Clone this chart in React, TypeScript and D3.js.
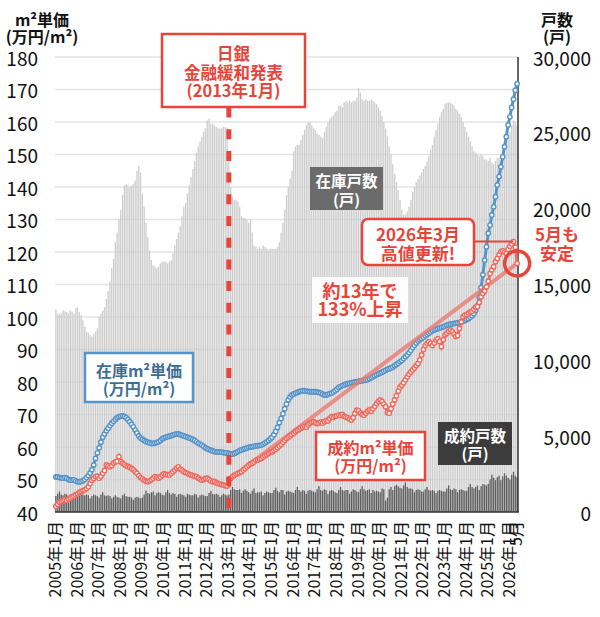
import React from "react";
import * as d3 from "d3";

// 在庫戸数 (戸) 2005年1月〜2026年5月
const inventoryCounts: number[] = [
  13370, 13070, 13030, 13110, 13290, 13240, 13180, 13110, 13290, 13200, 13070, 13460, // 2005
  13500, 13180, 12960, 12640, 12210, 11890, 11790, 11680, 11570, 11740, 11890, 12110, // 2006
  12860, 13070, 13290, 13500, 14040, 14570, 15210, 16070, 16710, 17790, 18430, 19290, // 2007
  19930, 20890, 21540, 21640, 21540, 21430, 21540, 21640, 21860, 22500, 22820, 22390, // 2008
  21000, 20140, 19070, 18110, 17250, 16610, 16290, 16180, 16070, 16180, 16390, 16500, // 2009
  16500, 16500, 16390, 16500, 16610, 17040, 17570, 18000, 18430, 18860, 19500, 20140, // 2010
  20360, 21000, 21540, 22070, 22610, 23140, 23680, 24110, 24430, 24750, 25070, 25290, // 2011
  25820, 25930, 25610, 25610, 25500, 25390, 25290, 25290, 25290, 25390, 25390, 25290, // 2012
  23570, 21430, 20790, 20570, 20570, 20470, 20140, 19500, 19390, 19390, 19290, 19070, // 2013
  19290, 18430, 17570, 17470, 17360, 17470, 17360, 17570, 17470, 17360, 17250, 17360, // 2014
  17360, 17360, 17360, 17470, 17790, 18430, 19070, 19930, 20890, 21430, 21960, 22500, // 2015
  23790, 24110, 24210, 24210, 24540, 24860, 25180, 25500, 25710, 25710, 25500, 25290, // 2016
  25180, 24960, 24860, 24750, 24640, 25070, 25390, 25710, 25930, 26040, 26140, 26360, // 2017
  26460, 26790, 26790, 26680, 27000, 27110, 27000, 27110, 27000, 27110, 27110, 27320, // 2018
  27960, 27640, 27210, 27110, 27210, 27110, 27110, 27210, 27110, 27000, 26890, 26680, // 2019
  26460, 26140, 25710, 25290, 24750, 24110, 23570, 22930, 22290, 21750, 21210, 20570, // 2020
  19930, 19610, 19610, 19820, 20140, 20570, 21110, 21430, 21750, 21960, 22180, 22390, // 2021
  22610, 22820, 23140, 23460, 23890, 24210, 24750, 25180, 25610, 26040, 26360, 26570, // 2022
  26890, 27000, 27000, 27000, 26890, 26790, 26570, 26460, 26250, 26040, 25710, 25390, // 2023
  25070, 24750, 24430, 24110, 23790, 23680, 23570, 23460, 23570, 23460, 23250, 23250, // 2024
  23140, 23360, 23040, 22930, 23140, 23360, 23360, 23140, 23570, 24000, 24540, 24860, // 2025
  25070, 25500, 25820, 25710, 25500, // 2026
];

// 成約戸数 (戸)
const contractCounts: number[] = [
  1050, 1200, 1350, 1150, 1100, 1200, 1150, 950, 1150, 1200, 1150, 1100,
  1000, 1250, 1350, 1150, 1100, 1150, 1100, 900, 1050, 1150, 1100, 1050,
  950, 1150, 1300, 1100, 1050, 1100, 1050, 900, 1000, 1100, 1000, 950,
  900, 1100, 1200, 1050, 1000, 1000, 950, 800, 950, 1000, 950, 900,
  950, 1150, 1400, 1250, 1200, 1300, 1350, 1100, 1250, 1300, 1250, 1150,
  1100, 1300, 1450, 1250, 1150, 1250, 1200, 1000, 1150, 1200, 1150, 1100,
  1000, 1200, 1150, 1100, 1100, 1200, 1150, 950, 1100, 1150, 1100, 1050,
  1050, 1250, 1400, 1200, 1150, 1200, 1150, 1000, 1100, 1200, 1150, 1100,
  1150, 1450, 1650, 1500, 1450, 1450, 1500, 1250, 1400, 1500, 1400, 1300,
  1200, 1400, 1550, 1250, 1300, 1300, 1350, 1100, 1250, 1350, 1300, 1250,
  1250, 1450, 1600, 1400, 1300, 1450, 1450, 1150, 1350, 1400, 1350, 1300,
  1250, 1450, 1650, 1450, 1350, 1450, 1400, 1200, 1400, 1450, 1400, 1350,
  1300, 1500, 1700, 1450, 1400, 1500, 1450, 1200, 1400, 1450, 1400, 1300,
  1250, 1450, 1650, 1450, 1400, 1450, 1450, 1200, 1350, 1500, 1450, 1350,
  1300, 1500, 1700, 1500, 1400, 1450, 1500, 1250, 1450, 1350, 1400, 1350,
  1300, 1550, 1500, 750, 950, 1500, 1650, 1450, 1700, 1800, 1700, 1600,
  1550, 1750, 1950, 1650, 1550, 1550, 1500, 1300, 1450, 1500, 1450, 1350,
  1350, 1500, 1650, 1450, 1400, 1450, 1400, 1250, 1400, 1450, 1400, 1350,
  1350, 1550, 1750, 1500, 1450, 1550, 1500, 1300, 1450, 1500, 1450, 1400,
  1400, 1650, 1850, 1650, 1550, 1650, 1750, 1450, 1700, 1850, 1800, 1750,
  1850, 2150, 2450, 2250, 2100, 2300, 2400, 2100, 2350, 2550, 2400, 2250,
  2150, 2450, 2650, 2400, 2300,
];

// 在庫m²単価 (万円/m²)
const stockPrice: number[] = [
  50.8, 50.8, 50.6, 50.5, 50.4, 50.6, 50.4, 50.0, 49.8, 49.8, 49.9, 49.6,
  49.3, 49.3, 49.4, 49.6, 50.0, 50.6, 51.2, 52.0, 53.0, 54.5, 56.5, 58.2,
  59.8, 61.5, 63.0, 64.0, 65.0, 65.8, 66.6, 67.3, 67.9, 68.5, 69.0, 69.3,
  69.5, 69.6, 69.4, 69.0, 68.5, 67.8, 67.0, 66.2, 65.2, 64.3, 63.4, 62.8,
  62.4, 62.0, 61.7, 61.5, 61.3, 61.1, 61.1, 61.2, 61.4, 61.6, 62.0, 62.5,
  62.8, 63.0, 63.2, 63.3, 63.5, 63.7, 63.9, 64.0, 64.0, 63.8, 63.6, 63.4,
  63.2, 63.0, 62.8, 62.6, 62.3, 62.0, 61.6, 61.2, 60.9, 60.6, 60.2, 59.8,
  59.5, 59.2, 59.0, 58.8, 58.6, 58.5, 58.5, 58.4, 58.4, 58.3, 58.2, 58.2,
  58.0, 57.8, 57.8, 58.0, 58.3, 58.6, 58.9, 59.1, 59.3, 59.5, 59.7, 59.9,
  60.0, 60.1, 60.2, 60.3, 60.4, 60.5, 60.6, 60.9, 61.2, 61.6, 62.0, 62.5,
  63.0, 63.8, 64.8, 66.0, 67.5, 68.8, 70.2, 71.8, 73.2, 74.5, 75.4, 76.0,
  76.3, 76.6, 76.8, 77.0, 77.2, 77.3, 77.3, 77.2, 77.1, 77.0, 77.0, 77.0,
  77.0, 76.9, 76.8, 76.6, 76.3, 76.0, 76.0, 76.2, 76.4, 76.6, 76.9, 77.3,
  77.8, 78.3, 78.6, 78.9, 79.1, 79.3, 79.5, 79.6, 79.8, 79.9, 80.0, 80.1,
  80.2, 80.3, 80.4, 80.5, 80.6, 80.8, 81.0, 81.3, 81.6, 81.9, 82.2, 82.5,
  82.8, 83.0, 83.3, 83.6, 83.9, 84.1, 84.3, 84.6, 85.0, 85.4, 85.8, 86.2,
  86.6, 87.2, 87.8, 88.3, 89.0, 89.8, 90.6, 91.3, 92.0, 92.6, 93.0, 93.4,
  93.8, 94.2, 94.6, 95.0, 95.4, 95.8, 96.0, 96.2, 96.4, 96.6, 96.8, 97.0,
  97.2, 97.5, 97.7, 97.8, 97.9, 98.0, 98.1, 98.2, 98.3, 98.5, 98.7, 98.9,
  99.2, 99.5, 99.9, 100.4, 101.0, 102.0, 103.5, 106.0, 109.0, 113.0, 117.5, 121.6,
  125.8, 128.3, 131.4, 133.9, 137.0, 140.6, 143.2, 146.2, 149.3, 152.4, 155.5, 159.1,
  161.6, 164.5, 167.0, 169.8, 171.8,
];

// 成約m²単価 (万円/m²)
const contractPrice: number[] = [
  41.8, 42.4, 43.0, 43.2, 43.5, 43.8, 43.6, 44.0, 44.3, 44.6, 44.9, 45.3,
  45.6, 46.0, 46.3, 46.6, 46.8, 47.2, 47.8, 48.8, 49.8, 50.3, 50.9, 51.0,
  50.4, 51.0, 51.9, 52.8, 54.5, 54.2, 53.9, 54.3, 55.0, 55.4, 55.6, 57.0,
  55.5, 55.0, 54.6, 54.2, 54.0, 53.8, 53.4, 53.0, 52.4, 51.9, 51.2, 50.6,
  50.2, 49.8, 49.5, 49.3, 49.6, 49.9, 50.4, 50.9, 50.7, 50.4, 50.8, 51.3,
  51.8, 51.6, 51.5, 51.4, 51.9, 52.4, 52.9, 53.5, 53.9, 53.2, 52.9, 52.4,
  52.1, 51.9, 51.6, 51.4, 51.2, 51.0, 50.9, 50.5, 50.1, 49.8, 50.0, 50.3,
  50.4, 50.0, 49.6, 49.3, 49.4, 49.0, 48.8, 48.6, 48.5, 48.3, 48.1, 48.0,
  50.0, 50.3, 50.9, 51.3, 51.6, 51.9, 52.1, 52.4, 52.9, 53.4, 53.9, 54.4,
  54.8, 55.0, 55.4, 55.9, 56.0, 56.3, 56.5, 56.9, 57.3, 57.6, 58.0, 58.4,
  58.5, 58.9, 59.3, 59.8, 60.3, 60.8, 61.4, 62.0, 62.6, 63.0, 63.4, 63.8,
  64.2, 64.7, 65.1, 65.4, 65.8, 66.0, 66.3, 66.1, 66.8, 67.3, 67.6, 67.8,
  67.5, 67.2, 67.4, 67.7, 67.4, 67.8, 68.2, 68.0, 68.8, 69.3, 69.1, 69.5,
  69.6, 69.9, 69.7, 70.0, 69.5, 69.2, 69.0, 68.6, 68.3, 69.0, 70.4, 71.3,
  71.2, 70.5, 70.0, 69.8, 70.4, 71.0, 71.4, 71.0, 71.8, 72.5, 73.4, 74.0,
  74.5, 74.0, 73.2, 72.4, 70.6, 70.4, 71.8, 73.2, 74.5, 75.8, 77.2, 78.4,
  79.0, 79.8, 80.7, 81.6, 82.4, 83.1, 83.7, 84.3, 85.0, 85.7, 86.8, 88.3,
  90.0, 91.2, 91.9, 92.4, 91.9, 91.2, 92.0, 92.9, 93.3, 92.5, 90.9, 93.0,
  94.5, 95.0, 95.6, 96.0, 95.5, 94.8, 94.0, 94.3, 96.5, 98.5, 100.1, 100.6,
  100.8, 101.2, 101.6, 101.8, 102.4, 103.0, 103.2, 104.5, 106.2, 107.2, 108.0, 109.3,
  111.0, 113.4, 114.5, 115.5, 117.0, 118.0, 119.2, 120.1, 120.4, 120.0, 119.6, 120.8,
  121.8, 122.5, 123.2, 121.5, 116.5,
];

// x軸ラベル (毎年1月 + 最終月)
const xTickLabels: string[] = [
  "2005年1月", "2006年1月", "2007年1月", "2008年1月", "2009年1月", "2010年1月",
  "2011年1月", "2012年1月", "2013年1月", "2014年1月", "2015年1月", "2016年1月",
  "2017年1月", "2018年1月", "2019年1月", "2020年1月", "2021年1月", "2022年1月",
  "2023年1月", "2024年1月", "2025年1月", "2026年1月",
];
const lastLabel = "5月";
const leftTicks = [40, 50, 60, 70, 80, 90, 100, 110, 120, 130, 140, 150, 160, 170, 180];
const rightTicks = [0, 5000, 10000, 15000, 20000, 25000, 30000];

const FONT = "'Noto Sans CJK JP', 'Noto Sans', sans-serif";
const RED = "#e8453a";
const RED_LINE = "#ee6b60";
const BLUE = "#5794c8";

export default function App() {
  const W = 600, H = 617;
  const left = 55, right = 518, top = 57, bottom = 512;
  const n = inventoryCounts.length;
  const months = d3.range(n);

  const x = d3.scaleBand<number>().domain(months).range([left, right]).padding(0);
  const xc = (i: number) => (x(i) as number) + x.bandwidth() / 2;
  const yL = d3.scaleLinear().domain([40, 180]).range([bottom, top]);
  const yR = d3.scaleLinear().domain([0, 30000]).range([bottom, top]);

  const line = d3.line<number>().x((_, i) => xc(i)).y((d) => yL(d));

  const bojIdx = xTickLabels.indexOf("2013年1月") * 12;
  const lastIdx = n - 1;
  const highIdx = lastIdx - 2; // 2026年3月
  const trend: [number, number][] = [
    [xc(bojIdx), yL(contractPrice[bojIdx])],
    [xc(lastIdx), yL(contractPrice[lastIdx])],
  ];

  const bw = x.bandwidth() * 0.72;

  const label2 = (cx: number, y1: number, y2: number, t1: string, t2: string, fill: string, size: number) => (
    <g fill={fill} fontSize={size} fontWeight="bold" textAnchor="middle" dominantBaseline="central">
      <text x={cx} y={y1}>{t1}</text>
      <text x={cx} y={y2}>{t2}</text>
    </g>
  );

  return (
    <svg width={W} height={H} style={{ position: "absolute", left: 0, top: 0, background: "#fff" }} fontFamily={FONT}>
      {/* grid */}
      {leftTicks.slice(1).map((t) => (
        <line key={t} x1={left} x2={right} y1={yL(t)} y2={yL(t)} stroke="#e4e4e4" strokeWidth={1.5} />
      ))}

      {/* 在庫戸数 bars */}
      {inventoryCounts.map((d, i) => (
        <rect key={"inv" + i} x={xc(i) - bw / 2} width={bw} y={yR(d)} height={bottom - yR(d)} fill="#cdcdcd" />
      ))}
      {/* 成約戸数 bars */}
      {contractCounts.map((d, i) => (
        <rect key={"con" + i} x={xc(i) - bw / 2} width={bw} y={yR(d)} height={bottom - yR(d)} fill="#5e5e5e" />
      ))}

      {/* axes frame */}
      <line x1={left} x2={right + 1} y1={bottom} y2={bottom} stroke="#333" strokeWidth={1.5} />
      <line x1={right} x2={right} y1={top} y2={bottom} stroke="#333" strokeWidth={1.5} />

      {/* 在庫m²単価 */}
      <path d={line(stockPrice) || ""} fill="none" stroke={BLUE} strokeWidth={3} />
      {stockPrice.map((d, i) => (
        <circle key={"sp" + i} cx={xc(i)} cy={yL(d)} r={2.2} fill="#fff" stroke={BLUE} strokeWidth={1.4} />
      ))}

      {/* trend */}
      <path d={d3.line()(trend) || ""} stroke="#ec7a70" strokeOpacity={0.8} strokeWidth={4} fill="none" />

      {/* 成約m²単価 */}
      <path d={line(contractPrice) || ""} fill="none" stroke={RED_LINE} strokeWidth={3} />
      {contractPrice.map((d, i) => (
        <circle key={"cp" + i} cx={xc(i)} cy={yL(d)} r={2.2} fill="#fff" stroke={RED_LINE} strokeWidth={1.4} />
      ))}

      {/* 日銀 dashed line */}
      <line x1={xc(bojIdx)} x2={xc(bojIdx)} y1={107.5} y2={514} stroke={RED} strokeWidth={5} strokeDasharray="10 11.7" />

      {/* left axis */}
      {leftTicks.map((t) => (
        <text key={"l" + t} x={38} y={yL(t)} fontSize={19} textAnchor="end" dominantBaseline="central" fill="#111">{t}</text>
      ))}
      {rightTicks.map((t) => (
        <text key={"r" + t} x={591} y={yR(t)} fontSize={19} textAnchor="end" dominantBaseline="central" fill="#111">{d3.format(",")(t)}</text>
      ))}
      {label2(42, 19, 36, "m²単価", "(万円/m²)", "#111", 16)}
      {label2(557, 19, 36, "戸数", "(戸)", "#111", 16)}

      {/* x labels */}
      {xTickLabels.map((t, k) => (
        <text key={t} transform={`translate(${xc(k * 12) + 5},521) rotate(-90)`} fontSize={16} textAnchor="end" fill="#111">{t}</text>
      ))}
      <text transform={`translate(${xc(lastIdx) + 5},521) rotate(-90)`} fontSize={16} textAnchor="end" fill="#111">{lastLabel}</text>

      {/* 日銀 box */}
      <rect x={162} y={34} width={143} height={73} fill="#fff" stroke={RED} strokeWidth={2.5} />
      <g fill={RED} fontSize={16.5} fontWeight="bold" textAnchor="middle" dominantBaseline="central">
        <text x={233.5} y={53}>日銀</text>
        <text x={233.5} y={72}>金融緩和発表</text>
        <text x={233.5} y={90}>(2013年1月)</text>
      </g>

      {/* 在庫m²単価 box */}
      <rect x={85} y={353} width={108} height={49} fill="#fff" stroke={BLUE} strokeWidth={2.5} />
      {label2(139, 370, 388, "在庫m²単価", "(万円/m²)", "#3d6e94", 16)}

      {/* 在庫戸数 box */}
      <rect x={310} y={167} width={73} height={43} fill="#6b6b6b" />
      {label2(346.5, 180, 199, "在庫戸数", "(戸)", "#fff", 15.5)}

      {/* 約13年で */}
      <rect x={312} y={277} width={96} height={46} fill="#fff" fillOpacity={0.92} />
      {label2(360, 290, 308, "約13年で", "133%上昇", RED, 18)}

      {/* 2026年3月 box */}
      <line x1={474} x2={xc(highIdx)} y1={yL(contractPrice[highIdx])} y2={yL(contractPrice[highIdx])} stroke={RED} strokeWidth={2} />
      <rect x={362} y={219} width={112} height={46} rx={6} fill="#fff" stroke={RED} strokeWidth={2.5} />
      {label2(418, 233, 252, "2026年3月", "高値更新!", RED, 17)}

      {/* 成約m²単価 box */}
      <rect x={316} y={432} width={109} height={48} fill="#fff" stroke={RED} strokeWidth={2.5} />
      {label2(370.5, 447, 465, "成約m²単価", "(万円/m²)", RED, 16)}

      {/* 成約戸数 box */}
      <rect x={438} y={422} width={74} height={43} fill="#3c3c3c" />
      {label2(475, 435, 453, "成約戸数", "(戸)", "#fff", 15.5)}

      {/* 5月も安定 */}
      <circle cx={xc(lastIdx)} cy={yL(contractPrice[lastIdx])} r={12.5} fill="none" stroke={RED} strokeWidth={3.5} />
      {label2(557, 233, 252, "5月も", "安定", RED, 17)}
    </svg>
  );
}
